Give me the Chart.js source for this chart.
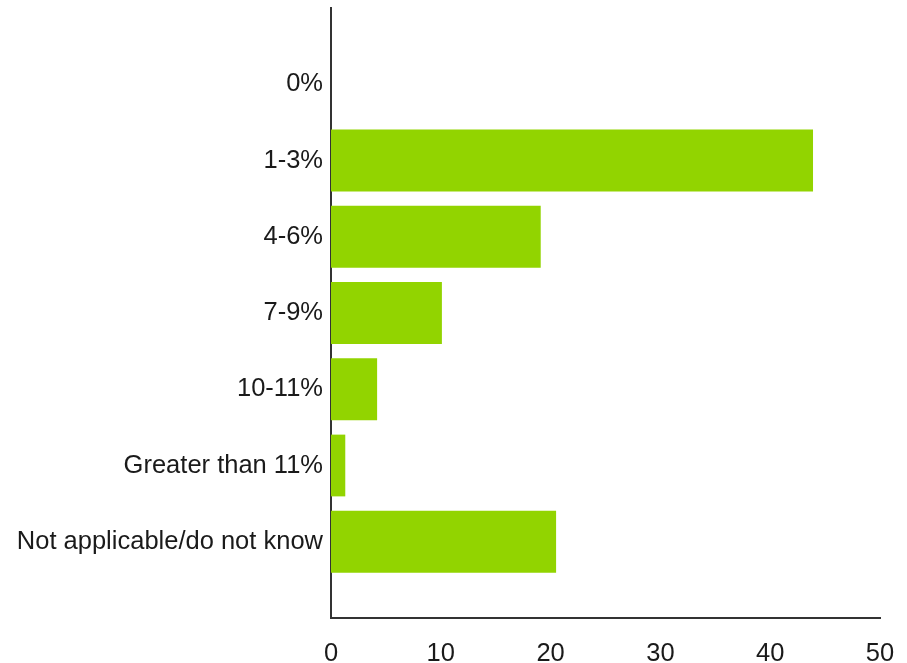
<!DOCTYPE html>
<html>
<head>
<meta charset="utf-8">
<script src="https://cdn.jsdelivr.net/npm/chart.js@4"></script>
<style>
  html, body { margin: 0; padding: 0; background: #fff; }
  #wrap { width: 907px; height: 663px; }
</style>
</head>
<body>
<div id="wrap"><canvas id="chart" width="907" height="663"></canvas></div>
<script>
const categories = ['0%', '1-3%', '4-6%', '7-9%', '10-11%', 'Greater than 11%', 'Not applicable/do not know'];
const responses = [0, 43.9, 19.1, 10.1, 4.2, 1.3, 20.5];
const xTicks = [0, 10, 20, 30, 40, 50];

const font = { family: "'Liberation Sans', Arial, sans-serif", size: 25.5 };
const axisColor = '#333';

// linear index axis so there is a blank slot above and below the bars
const points = categories.map((c, i) => ({ x: responses[i], y: i }));

new Chart(document.getElementById('chart'), {
  type: 'bar',
  data: {
    datasets: [{
      label: 'Responses',
      data: points,
      backgroundColor: '#92d400',
      borderWidth: 0,
      categoryPercentage: 0.81,
      barPercentage: 1
    }]
  },
  options: {
    indexAxis: 'y',
    responsive: false,
    animation: false,
    events: [],
    layout: { autoPadding: false, padding: { top: 8, right: 27, bottom: 0, left: 0 } },
    plugins: { legend: { display: false }, tooltip: { enabled: false } },
    scales: {
      x: {
        type: 'linear',
        min: xTicks[0],
        max: xTicks[xTicks.length - 1],
        grid: { display: false, drawTicks: false },
        border: { display: true, color: axisColor, width: 2 },
        ticks: { stepSize: 10, padding: 21, color: '#1a1a1a', font: font },
        afterFit: s => { s.height = 45; s.paddingLeft = 0; s.paddingRight = 0; }
      },
      y: {
        type: 'linear',
        offset: false,
        min: -1,
        max: categories.length,
        reverse: true,
        grid: { display: false, drawTicks: false },
        border: { display: true, color: axisColor, width: 2 },
        ticks: {
          stepSize: 1,
          autoSkip: false,
          padding: 8,
          color: '#1a1a1a',
          font: font,
          callback: v => categories[v] ?? ''
        },
        afterFit: s => { s.width = 331; s.paddingTop = 0; s.paddingBottom = 0; }
      }
    }
  }
});
</script>
</body>
</html>
